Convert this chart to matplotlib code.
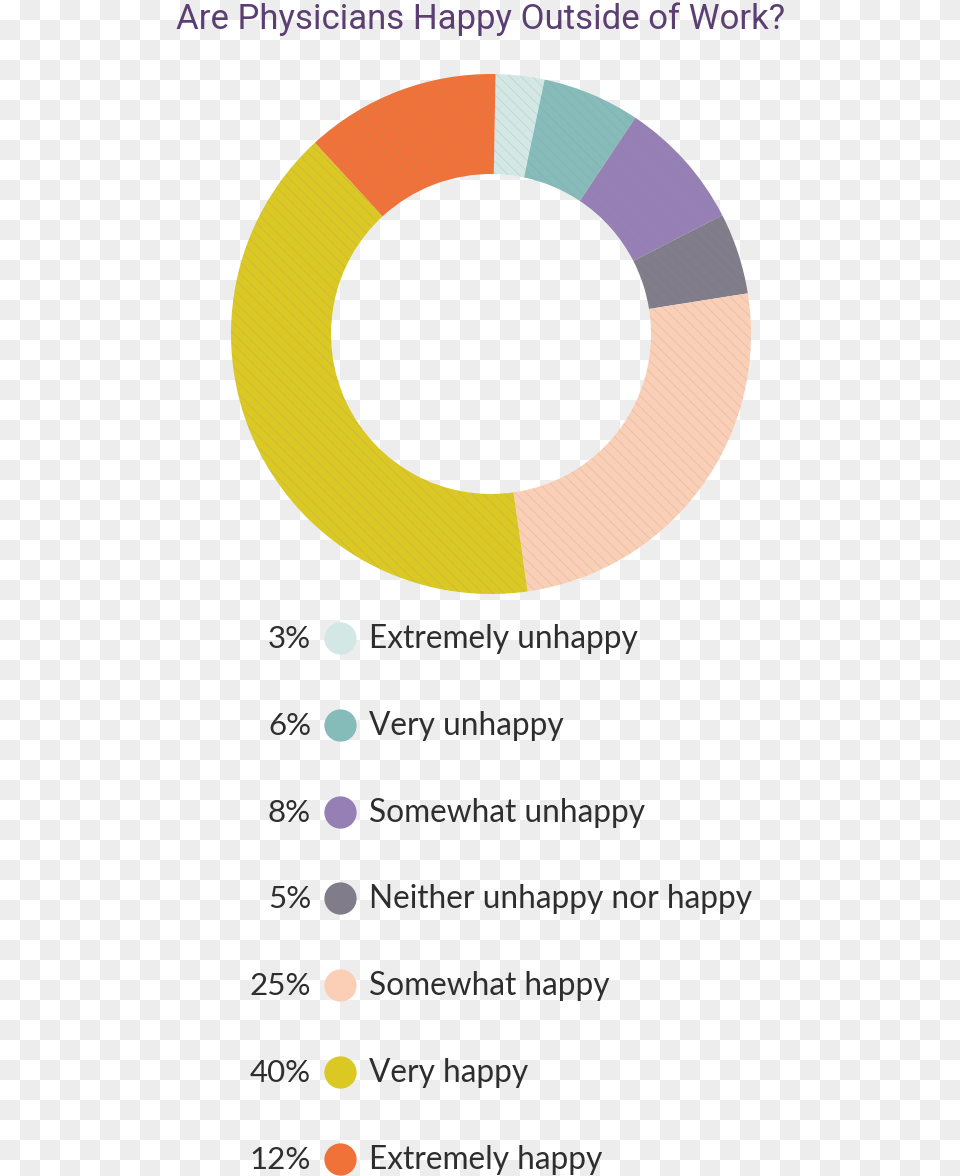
import numpy as np
import matplotlib.pyplot as plt

categories = ['Extremely unhappy', 'Very unhappy', 'Somewhat unhappy',
              'Neither unhappy nor happy', 'Somewhat happy', 'Very happy',
              'Extremely happy']
shares = [3, 6, 8, 5, 25, 40, 12]
colors = ['#d3e8e5', '#85bbb8', '#967fb4', '#807c89', '#fbcfb6', '#dbc823', '#f07238']
title = 'Are Physicians Happy Outside of Work?'

W, H = 960, 1176
fig = plt.figure(figsize=(W / 100, H / 100), dpi=100)

# checkerboard background (transparent png look)
bg = fig.add_axes([0, 0, 1, 1])
nx, ny = W // 20, int(np.ceil(H / 20))
checker = (np.add.outer(np.arange(ny), np.arange(nx)) % 2).astype(float)
bg.imshow(checker, cmap='gray_r', vmin=0, vmax=1 / 0.0706, extent=[0, nx * 20, ny * 20, 0],
          interpolation='nearest')
bg.set_xlim(0, W)
bg.set_ylim(H, 0)
bg.axis('off')

# donut
cx, cy, r = 491, 334, 260
ax = fig.add_axes([(cx - r) / W, 1 - (cy + r) / H, 2 * r / W, 2 * r / H])
plt.rcParams['hatch.linewidth'] = 0.5
wedges, _ = ax.pie(shares, colors=colors, startangle=89, counterclock=False,
                   radius=1, wedgeprops=dict(width=100 / 260, linewidth=0,
                                             edgecolor=(0.55, 0.6, 0.65, 0.3)))
for w in wedges:
    w.set_hatch('\\\\\\')
ax.set_xlim(-1, 1)
ax.set_ylim(-1, 1)
ax.axis('off')

# title + legend
la = fig.add_axes([0, 0, 1, 1])
la.set_xlim(0, W)
la.set_ylim(H, 0)
la.axis('off')
la.patch.set_alpha(0)

la.text(481, 19, title, ha='center', va='center', fontsize=25,
        color='#5b3f73', family=['Roboto', 'DejaVu Sans'])

row_y = 639
step = 86.8
for i, (cat, val, col) in enumerate(zip(categories, shares, colors)):
    y = row_y + i * step
    la.text(311, y, f'{val}%', ha='right', va='center', fontsize=22.5,
            color='#2e2e2e', family='Lato')
    la.scatter([340], [y - 1], s=540, color=col, linewidths=0)
    la.text(369, y, cat, ha='left', va='center', fontsize=22.8,
            color='#2e2e2e', family='Lato')

fig.savefig('out.png', dpi=100)
